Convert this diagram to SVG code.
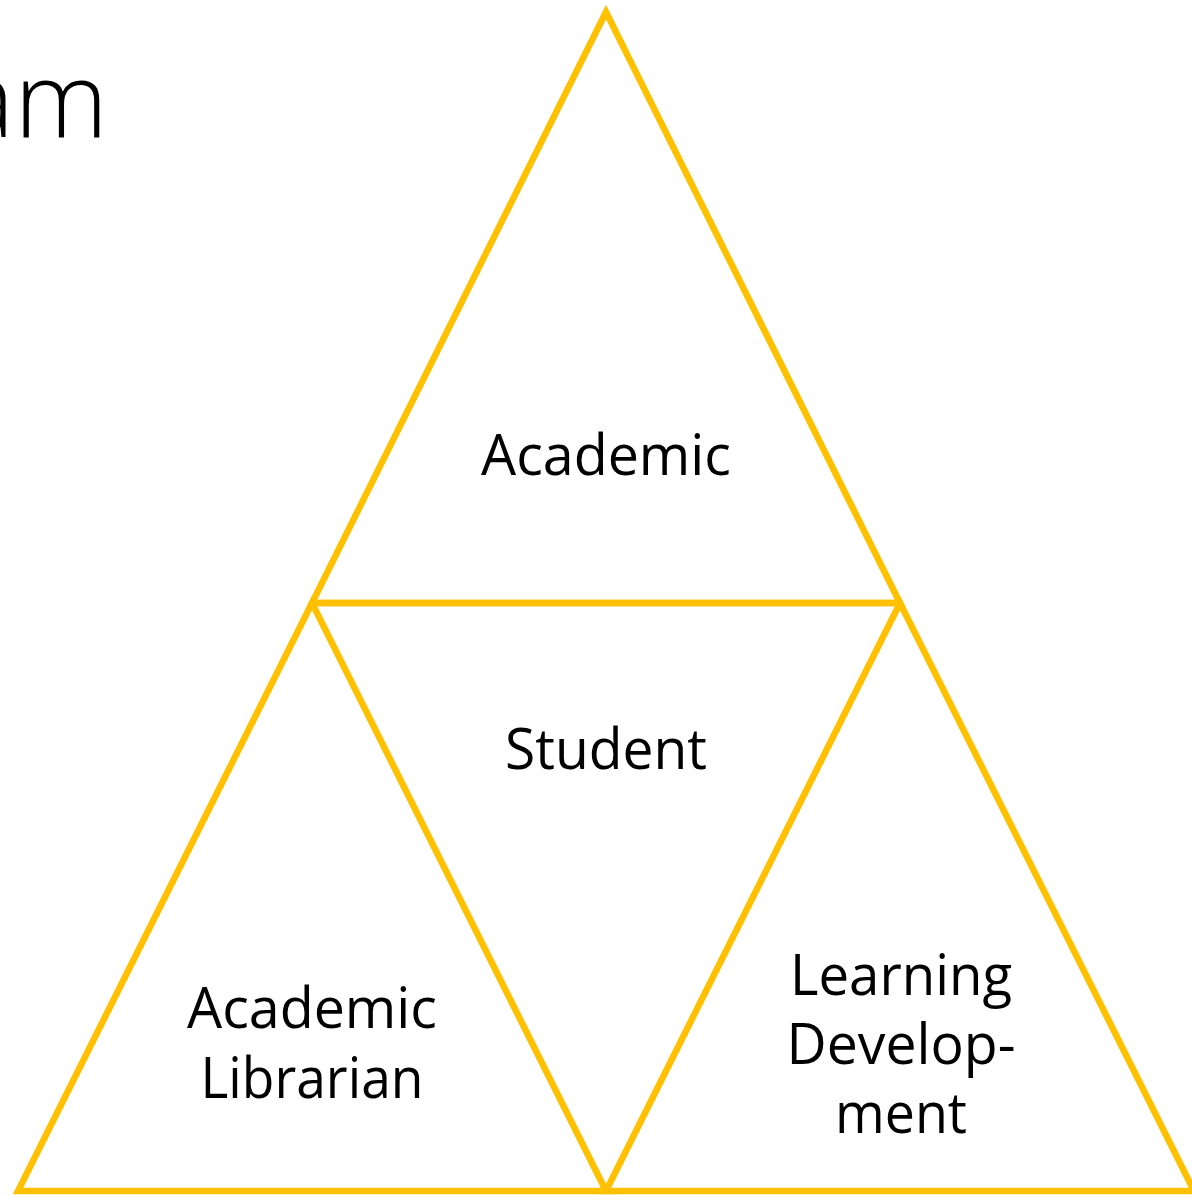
<svg xmlns="http://www.w3.org/2000/svg" width="1192" height="1196" viewBox="0 0 1192 1196">
<style>
.tri{fill:none;stroke:#FFC000;stroke-width:6.5;stroke-linejoin:miter}
.lbl{font-family:"Open Sans","Liberation Sans",sans-serif;font-size:57px;fill:#000;text-anchor:middle}
.title{font-family:"Open Sans","Liberation Sans",sans-serif;font-weight:300;font-size:106px;fill:#000;text-anchor:end}
</style>
<rect width="1192" height="1196" fill="#fff"/>
<text class="title" x="108" y="137" textLength="150" lengthAdjust="spacingAndGlyphs">am</text>
<g id="connectors">
<line class="tri" x1="312" y1="603" x2="900" y2="603"/>
</g>
<g id="node-academic">
<polygon class="tri" points="606,12 312,603 900,603"/>
<text class="lbl" x="606" y="475" textLength="250" lengthAdjust="spacingAndGlyphs">Academic</text>
</g>
<g id="node-student">
<text class="lbl" x="606" y="769" textLength="202" lengthAdjust="spacingAndGlyphs">Student</text>
</g>
<g id="node-librarian">
<polygon class="tri" points="312,603 18,1191 606,1191"/>
<text class="lbl" x="312" y="1028" textLength="250" lengthAdjust="spacingAndGlyphs">Academic</text>
<text class="lbl" x="312" y="1098" textLength="223" lengthAdjust="spacingAndGlyphs">Librarian</text>
</g>
<g id="node-learning">
<polygon class="tri" points="900,603 606,1191 1194,1191"/>
<text class="lbl" x="901" y="995" textLength="222" lengthAdjust="spacingAndGlyphs">Learning</text>
<text class="lbl" x="901" y="1064" textLength="229" lengthAdjust="spacingAndGlyphs">Develop-</text>
<text class="lbl" x="901" y="1133" textLength="132" lengthAdjust="spacingAndGlyphs">ment</text>
</g>
</svg>
